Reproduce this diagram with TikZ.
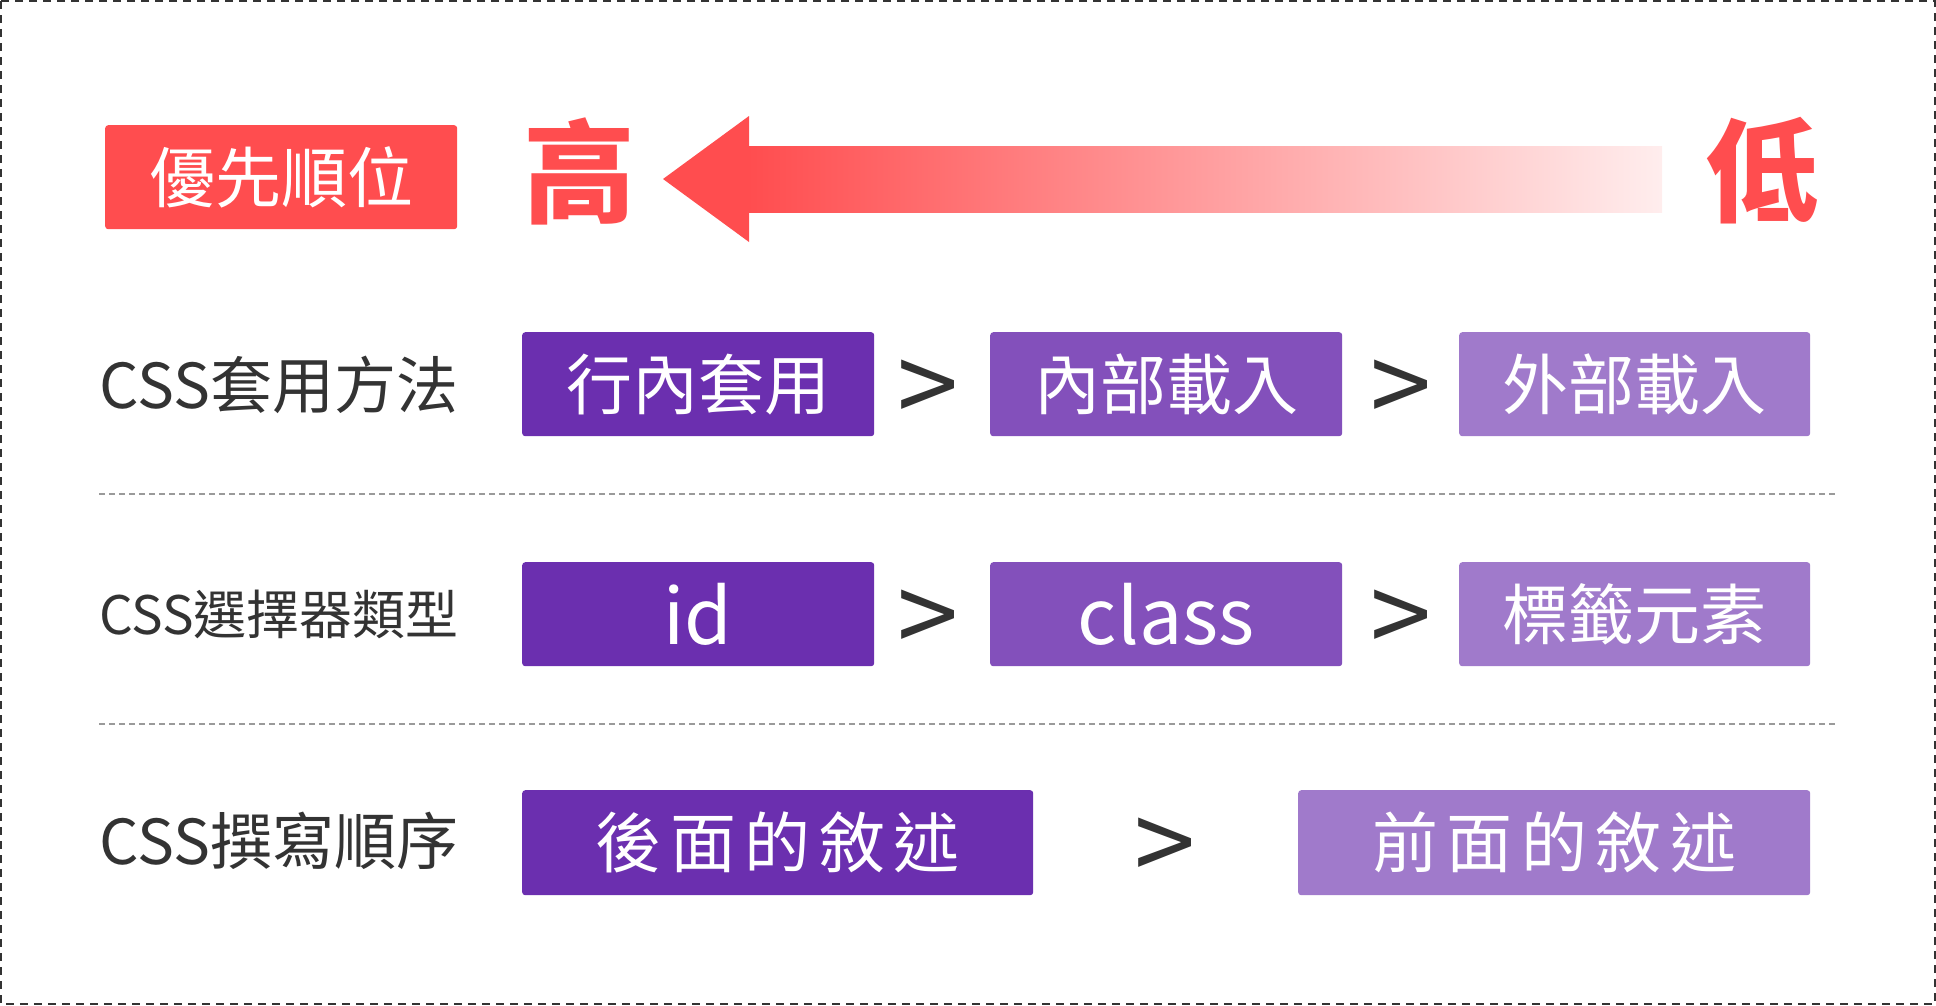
\documentclass[tikz,border=0pt]{standalone}
\usepackage{fontspec}
\setmainfont{Noto Sans CJK TC}
\usepackage{xcolor}
\usetikzlibrary{positioning}

\definecolor{prioRed}{HTML}{FF4D4F}
\definecolor{darkPurple}{HTML}{6B2FAF}
\definecolor{midPurple}{HTML}{8350BB}
\definecolor{lightPurple}{HTML}{A07ACB}
\definecolor{labelGray}{HTML}{333333}
\definecolor{lineGray}{HTML}{9A9A9A}

\newcommand{\boxfont}{\fontsize{66}{66}\selectfont}
\newcommand{\latinfont}{\fontsize{77}{77}\selectfont}
\newcommand{\labelfont}{\fontsize{62}{62}\selectfont}
\newcommand{\smalllabelfont}{\fontsize{53}{53}\selectfont}
\newcommand{\bigfont}{\fontsize{112}{112}\selectfont\bfseries}
\newcommand{\gap}{\hspace{8.5pt}}

\begin{document}
\begin{tikzpicture}[x=1pt,y=-1pt,
  box/.style={anchor=north west, rounded corners=3pt, inner sep=0pt,
    text=white, minimum height=104pt, font=\boxfont},
  rowlabel/.style={anchor=west, text=labelGray, inner sep=0pt},
  gt/.style={text=labelGray, inner sep=0pt, font=\fontsize{110}{110}\selectfont},
  sepline/.style={lineGray, line width=1.5pt, dash pattern=on 6pt off 4pt}]

\useasboundingbox (0,0) rectangle (1936,1005);
\draw[labelGray, line width=1.5pt, dash pattern=on 8pt off 6pt] (1,1) rectangle (1935,1004);

% priority header
\node[box, fill=prioRed, minimum width=352pt, minimum height=104pt] (prio) at (105,125) {優先順位};
\node[text=prioRed, font=\bigfont, inner sep=0pt] (high) at (579,171) {高};
\node[text=prioRed, font=\bigfont, inner sep=0pt] (low) at (1762,171) {低};
\fill[prioRed] (663,179) -- (749,116) -- (749,242) -- cycle;
\shade[left color=prioRed, right color=prioRed!10] (748,146) rectangle (1662,212);

% CSS apply method
\node[rowlabel, font=\labelfont] (lab1) at (99,385) {CSS套用方法};
\node[box, fill=darkPurple, minimum width=352pt] (inl) at (522,332) {行內套用};
\node[box, fill=midPurple, minimum width=352pt] (intr) at (990,332) {內部載入};
\node[box, fill=lightPurple, minimum width=351pt] (extr) at (1459,332) {外部載入};
\node[gt] (gt11) at (928,393) {>};
\node[gt] (gt12) at (1401,393) {>};

\draw[sepline] (99,494) -- (1835,494);

% CSS selector type
\node[rowlabel, font=\smalllabelfont] (lab2) at (99,614) {CSS選擇器類型};
\node[box, fill=darkPurple, minimum width=352pt, font=\latinfont] (idsel) at (522,562) {id};
\node[box, fill=midPurple, minimum width=352pt, font=\latinfont] (clsel) at (990,562) {class};
\node[box, fill=lightPurple, minimum width=351pt] (tagsel) at (1459,562) {標籤元素};
\node[gt] (gt21) at (928,623) {>};
\node[gt] (gt22) at (1401,623) {>};

\draw[sepline] (99,724) -- (1835,724);

% CSS writing order
\node[rowlabel, font=\labelfont] (lab3) at (99,841) {CSS撰寫順序};
\node[box, fill=darkPurple, minimum width=511pt, minimum height=105pt] (later) at (522,790) {後\gap 面\gap 的\gap 敘\gap 述};
\node[box, fill=lightPurple, minimum width=512pt, minimum height=105pt] (earlier) at (1298,790) {前\gap 面\gap 的\gap 敘\gap 述};
\node[gt] (gt31) at (1165,851) {>};

\end{tikzpicture}
\end{document}
